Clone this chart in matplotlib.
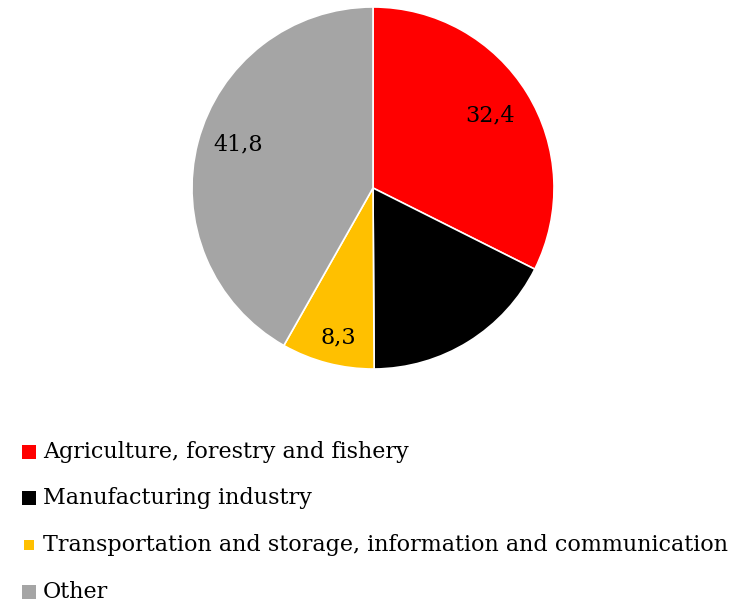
import matplotlib
matplotlib.use("Agg")
from matplotlib import pyplot as plt
from matplotlib.patches import Rectangle
import numpy as np

categories = ["Agriculture, forestry and fishery",
              "Manufacturing industry",
              "Transportation and storage, information and communication",
              "Other"]
values = [32.4, 17.5, 8.3, 41.8]
labels = ["32,4", "17,5", "8,3", "41,8"]
colors = ["#ff0000", "#000000", "#ffc000", "#a5a5a5"]

plt.rcParams["font.family"] = ["DejaVu Serif"]

W, H = 751, 604
fig = plt.figure(figsize=(W / 100, H / 100), dpi=100)

cx, cy, r = 373, 188, 181
ax = fig.add_axes([(cx - r) / W, (H - cy - r) / H, 2 * r / W, 2 * r / H])
wedges, _ = ax.pie(values, colors=colors, startangle=90, counterclock=False,
                   radius=1, wedgeprops=dict(edgecolor="white", linewidth=1.2))
ax.set_xlim(-1, 1)
ax.set_ylim(-1, 1)
ax.set_aspect("equal")
ax.axis("off")

# data labels along each wedge's middle angle (small nudges per label)
dist = [0.76, 0.7, 0.85, 0.78]
nudge = [0, 0, 1.5, -3]
for w, lab, d, n in zip(wedges, labels, dist, nudge):
    mid = np.deg2rad((w.theta1 + w.theta2) / 2 + n)
    ax.text(d * np.cos(mid), d * np.sin(mid), lab, ha="center", va="center",
            fontsize=16, color="black")

# legend rows
rows_y = [452, 498, 545, 592]
for cat, col, y in zip(categories, colors, rows_y):
    s = 10 if col == "#ffc000" else 14
    fig.patches.append(Rectangle(((29 - s / 2) / W, (H - y - s / 2) / H), s / W, s / H,
                                 transform=fig.transFigure, facecolor=col, edgecolor="none"))
    fig.text(43 / W, (H - y) / H, cat, ha="left", va="center", fontsize=16)

fig.savefig("out.png", dpi=100)
